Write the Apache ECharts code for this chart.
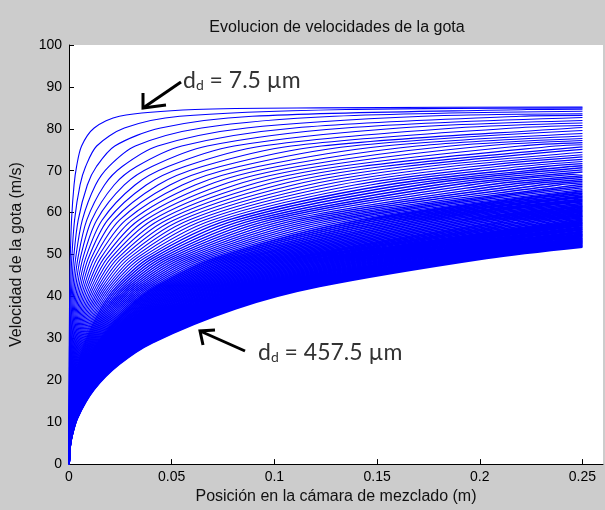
<!DOCTYPE html>
<html><head><meta charset="utf-8">
<script src="https://cdn.jsdelivr.net/npm/echarts@6/dist/echarts.min.js"></script>
<style>html,body{margin:0;padding:0;background:#cccccc}#c{width:605px;height:510px}</style>
</head><body><div id="c"></div>
<script>
// droplet diameters (µm), one curve each
const diameters = [7.5,12.5,17.5,22.5,27.5,32.5,37.5,42.5,47.5,52.5,57.5,62.5,67.5,72.5,77.5,82.5,87.5,92.5,97.5,102.5,107.5,112.5,117.5,122.5,127.5,132.5,137.5,142.5,147.5,152.5,157.5,162.5,167.5,172.5,177.5,182.5,187.5,192.5,197.5,202.5,207.5,212.5,217.5,222.5,227.5,232.5,237.5,242.5,247.5,252.5,257.5,262.5,267.5,272.5,277.5,282.5,287.5,292.5,297.5,302.5,307.5,312.5,317.5,322.5,327.5,332.5,337.5,342.5,347.5,352.5,357.5,362.5,367.5,372.5,377.5,382.5,387.5,392.5,397.5,402.5,407.5,412.5,417.5,422.5,427.5,432.5,437.5,442.5,447.5,452.5,457.5];
// velocity levels (m/s) and the position (m) at which each droplet reaches them
const velocityLevels = [3.7,6.3,11.0,17.8,23.8,29.0,37.1,42.4,49.1,58.2,66.6,71.0,75.9,80.2,83.0,84.6,85.0,85.2];
const reachPosition = [
[0,0,0.00001,0.00004,0.00007,0.00012,0.00025,0.00037,0.00061,0.00123,0.00245,0.00368,0.00613,0.01226,0.02452,0.0613,0.1226,0.2452],
[0,0.00001,0.00003,0.00008,0.00016,0.00027,0.00054,0.00081,0.00135,0.0027,0.00539,0.00809,0.01348,0.02695,0.0539,0.1348],
[0,0.00001,0.00004,0.00013,0.00027,0.00045,0.00089,0.00134,0.00223,0.00446,0.00892,0.01338,0.0223,0.0446,0.0892,0.223],
[0.00001,0.00002,0.00006,0.00019,0.00039,0.00065,0.00129,0.00194,0.00323,0.00646,0.01291,0.01937,0.03228,0.06455,0.1291],
[0.00001,0.00003,0.00009,0.00026,0.00052,0.00086,0.00173,0.00259,0.00432,0.00864,0.01727,0.02591,0.04318,0.08636,0.1727],
[0.00001,0.00003,0.00011,0.00033,0.00066,0.0011,0.0022,0.00329,0.00549,0.01098,0.02196,0.03294,0.0549,0.1098,0.2196],
[0.00001,0.00004,0.00013,0.0004,0.00081,0.00135,0.00269,0.00404,0.00673,0.01346,0.02693,0.04039,0.06732,0.1346],
[0.00002,0.00005,0.00016,0.00048,0.00096,0.00161,0.00322,0.00482,0.00804,0.01608,0.03215,0.04823,0.08039,0.1608],
[0.00002,0.00006,0.00019,0.00056,0.00113,0.00188,0.00376,0.00564,0.0094,0.0188,0.0376,0.05641,0.09401,0.188],
[0.00002,0.00006,0.00022,0.00065,0.0013,0.00216,0.00433,0.00649,0.01082,0.02164,0.04327,0.06491,0.1082,0.2164],
[0.00002,0.00007,0.00025,0.00074,0.00147,0.00246,0.00491,0.00737,0.01229,0.02457,0.04914,0.07371,0.1229,0.2457],
[0.00003,0.00008,0.00028,0.00083,0.00165,0.00276,0.00552,0.00827,0.01379,0.02758,0.05516,0.08274,0.1379],
[0.00003,0.00009,0.00031,0.00092,0.00184,0.00307,0.00614,0.00921,0.01535,0.03069,0.06138,0.09207,0.1535],
[0.00003,0.0001,0.00034,0.00102,0.00203,0.00339,0.00678,0.01016,0.01694,0.03388,0.06776,0.1016,0.1694],
[0.00004,0.00011,0.00037,0.00111,0.00223,0.00371,0.00743,0.01114,0.01857,0.03714,0.07428,0.1114,0.1857],
[0.00004,0.00012,0.0004,0.00121,0.00243,0.00405,0.0081,0.01214,0.02024,0.04048,0.08096,0.1214,0.2024],
[0.00004,0.00013,0.00044,0.00132,0.00263,0.00439,0.00878,0.01317,0.02195,0.0439,0.0878,0.1317,0.2195],
[0.00005,0.00014,0.00047,0.00142,0.00284,0.00474,0.00947,0.01421,0.02369,0.04737,0.09474,0.1421,0.2369],
[0.00005,0.00015,0.00051,0.00153,0.00306,0.00509,0.01018,0.01528,0.02546,0.05092,0.1018,0.1528],
[0.00005,0.00016,0.00055,0.00164,0.00327,0.00545,0.01091,0.01636,0.02727,0.05454,0.1091,0.1636],
[0.00006,0.00017,0.00058,0.00175,0.00349,0.00582,0.01164,0.01746,0.0291,0.0582,0.1164,0.1746],
[0.00006,0.00019,0.00062,0.00186,0.00371,0.00619,0.01238,0.01857,0.03096,0.06191,0.1238,0.1857],
[0.00007,0.0002,0.00066,0.00197,0.00394,0.00657,0.01313,0.0197,0.03283,0.06566,0.1313,0.197],
[0.00007,0.00021,0.00069,0.00208,0.00417,0.00695,0.0139,0.02084,0.03474,0.06948,0.139,0.2084],
[0.00007,0.00022,0.00073,0.0022,0.0044,0.00734,0.01467,0.02201,0.03668,0.07336,0.1467,0.2201],
[0.00008,0.00023,0.00077,0.00232,0.00464,0.00773,0.01546,0.02319,0.03865,0.0773,0.1546,0.2319],
[0.00008,0.00024,0.00081,0.00244,0.00488,0.00813,0.01625,0.02438,0.04064,0.08127,0.1625,0.2438],
[0.00009,0.00026,0.00085,0.00256,0.00512,0.00853,0.01707,0.0256,0.04267,0.08533,0.1707],
[0.00009,0.00027,0.00089,0.00268,0.00537,0.00894,0.01789,0.02683,0.04472,0.08943,0.1789],
[0.00009,0.00028,0.00094,0.00281,0.00561,0.00936,0.01871,0.02807,0.04678,0.09356,0.1871],
[0.0001,0.00029,0.00098,0.00293,0.00586,0.00977,0.01954,0.02932,0.04886,0.09772,0.1954],
[0.0001,0.00031,0.00102,0.00306,0.00612,0.01019,0.02039,0.03058,0.05097,0.1019,0.2039],
[0.00011,0.00032,0.00106,0.00319,0.00637,0.01062,0.02123,0.03185,0.05309,0.1062,0.2123],
[0.00011,0.00033,0.0011,0.00331,0.00663,0.01105,0.02209,0.03314,0.05524,0.1105,0.2209],
[0.00011,0.00034,0.00115,0.00344,0.00689,0.01148,0.02296,0.03445,0.05741,0.1148,0.2296],
[0.00012,0.00036,0.00119,0.00358,0.00715,0.01192,0.02383,0.03575,0.05959,0.1192,0.2383],
[0.00012,0.00037,0.00124,0.00371,0.00741,0.01236,0.02472,0.03707,0.06179,0.1236,0.2472],
[0.00013,0.00038,0.00128,0.00384,0.00768,0.0128,0.02561,0.03841,0.06402,0.128],
[0.00013,0.0004,0.00133,0.00398,0.00795,0.01325,0.0265,0.03976,0.06626,0.1325],
[0.00014,0.00041,0.00137,0.00411,0.00822,0.01371,0.02741,0.04112,0.06853,0.1371],
[0.00014,0.00043,0.00142,0.00425,0.0085,0.01417,0.02834,0.0425,0.07084,0.1417],
[0.00015,0.00044,0.00146,0.00439,0.00878,0.01463,0.02925,0.04388,0.07313,0.1463],
[0.00015,0.00045,0.00151,0.00453,0.00905,0.01509,0.03018,0.04527,0.07545,0.1509],
[0.00016,0.00047,0.00156,0.00467,0.00933,0.01556,0.03111,0.04667,0.07778,0.1556],
[0.00016,0.00048,0.0016,0.00481,0.00962,0.01603,0.03206,0.04808,0.08014,0.1603],
[0.00017,0.0005,0.00165,0.00495,0.0099,0.0165,0.033,0.0495,0.08251,0.165],
[0.00017,0.00051,0.0017,0.00509,0.01019,0.01698,0.03395,0.05093,0.08489,0.1698],
[0.00017,0.00052,0.00175,0.00524,0.01047,0.01746,0.03492,0.05237,0.08729,0.1746],
[0.00018,0.00054,0.00179,0.00538,0.01076,0.01794,0.03588,0.05382,0.08971,0.1794],
[0.00018,0.00055,0.00184,0.00553,0.01106,0.01843,0.03686,0.05528,0.09214,0.1843],
[0.00019,0.00057,0.00189,0.00567,0.01135,0.01892,0.03783,0.05675,0.09458,0.1892],
[0.00019,0.00058,0.00194,0.00582,0.01165,0.01941,0.03882,0.05823,0.09705,0.1941],
[0.0002,0.0006,0.00199,0.00597,0.01194,0.0199,0.03981,0.05971,0.09952,0.199],
[0.0002,0.00061,0.00204,0.00612,0.01224,0.0204,0.0408,0.06121,0.102,0.204],
[0.00021,0.00063,0.00209,0.00627,0.01254,0.0209,0.04181,0.06271,0.1045,0.209],
[0.00021,0.00064,0.00214,0.00642,0.01285,0.02141,0.04282,0.06423,0.107,0.2141],
[0.00022,0.00066,0.00219,0.00657,0.01315,0.02191,0.04383,0.06574,0.1096,0.2191],
[0.00022,0.00067,0.00224,0.00673,0.01346,0.02243,0.04485,0.06728,0.1121,0.2243],
[0.00023,0.00069,0.00229,0.00688,0.01376,0.02294,0.04588,0.06881,0.1147,0.2294],
[0.00023,0.0007,0.00235,0.00704,0.01407,0.02346,0.04692,0.07037,0.1173,0.2346],
[0.00024,0.00072,0.0024,0.00719,0.01439,0.02398,0.04796,0.07194,0.1199,0.2398],
[0.00024,0.00073,0.00245,0.00735,0.0147,0.0245,0.049,0.0735,0.1225,0.245],
[0.00025,0.00075,0.0025,0.00751,0.01501,0.02502,0.05004,0.07506,0.1251],
[0.00026,0.00077,0.00255,0.00766,0.01533,0.02555,0.0511,0.07664,0.1277],
[0.00026,0.00078,0.00261,0.00782,0.01565,0.02608,0.05215,0.07823,0.1304],
[0.00027,0.0008,0.00266,0.00798,0.01596,0.02661,0.05321,0.07982,0.133],
[0.00027,0.00081,0.00271,0.00814,0.01629,0.02714,0.05429,0.08143,0.1357],
[0.00028,0.00083,0.00277,0.0083,0.01661,0.02768,0.05536,0.08304,0.1384],
[0.00028,0.00085,0.00282,0.00847,0.01693,0.02822,0.05644,0.08467,0.1411],
[0.00029,0.00086,0.00288,0.00863,0.01726,0.02876,0.05753,0.08629,0.1438],
[0.00029,0.00088,0.00293,0.00879,0.01759,0.02931,0.05862,0.08793,0.1465],
[0.0003,0.0009,0.00299,0.00896,0.01791,0.02985,0.05971,0.08956,0.1493],
[0.0003,0.00091,0.00304,0.00912,0.01824,0.0304,0.0608,0.09121,0.152],
[0.00031,0.00093,0.0031,0.00929,0.01857,0.03095,0.0619,0.09285,0.1548],
[0.00032,0.00095,0.00315,0.00945,0.0189,0.0315,0.06301,0.09451,0.1575],
[0.00032,0.00096,0.00321,0.00962,0.01924,0.03206,0.06413,0.09619,0.1603],
[0.00033,0.00098,0.00326,0.00979,0.01957,0.03262,0.06524,0.09787,0.1631],
[0.00033,0.001,0.00332,0.00995,0.01991,0.03318,0.06636,0.09955,0.1659],
[0.00034,0.00101,0.00337,0.01012,0.02024,0.03374,0.06748,0.1012,0.1687],
[0.00034,0.00103,0.00343,0.01029,0.02059,0.03431,0.06862,0.1029,0.1716],
[0.00035,0.00105,0.00349,0.01046,0.02093,0.03488,0.06975,0.1046,0.1744],
[0.00035,0.00106,0.00354,0.01063,0.02127,0.03544,0.07088,0.1063,0.1772],
[0.00036,0.00108,0.0036,0.01081,0.02161,0.03602,0.07204,0.1081,0.1801],
[0.00037,0.0011,0.00366,0.01098,0.02195,0.03659,0.07318,0.1098,0.183],
[0.00037,0.00111,0.00372,0.01115,0.0223,0.03716,0.07433,0.1115,0.1858],
[0.00038,0.00113,0.00377,0.01132,0.02264,0.03774,0.07548,0.1132,0.1887],
[0.00038,0.00115,0.00383,0.0115,0.02299,0.03832,0.07664,0.115,0.1916],
[0.00039,0.00117,0.00389,0.01167,0.02334,0.03891,0.07781,0.1167,0.1945],
[0.00039,0.00118,0.00395,0.01184,0.02369,0.03948,0.07896,0.1184,0.1974],
[0.0004,0.0012,0.00401,0.01202,0.02404,0.04007,0.08014,0.1202,0.2003],
[0.00041,0.00122,0.00407,0.0122,0.02439,0.04065,0.0813,0.122,0.2033]
];
// velocity of each droplet at the chamber exit
const endPosition = 0.25;
const finalVelocity = [85.2,85.0,84.7,84.2,83.6,83.2,82.7,82.0,81.4,80.8,
80.3,79.6,78.9,78.3,77.7,77.2,76.7,76.2,
75.7,75.1,74.4,73.8,73.3,72.7,72.2,71.7,71.2,70.7,70.2,69.7,69.3,68.8,68.4,67.9,67.5,67.1,66.7,
66.3,65.9,65.5,65.1,64.7,64.3,63.9,63.6,63.2,62.9,62.6,62.2,61.9,61.6,61.3,61.0,60.7,60.4,60.1,59.8,59.5,59.2,59.0,58.7,58.4,
58.2,57.9,57.6,57.4,57.1,56.9,56.6,56.4,56.1,55.9,55.6,55.4,55.2,54.9,54.7,54.5,54.3,54.0,53.8,53.6,53.4,53.2,53.0,52.8,52.6,52.4,52.2,52.0,51.8];
const startPoint = [0, 0];
const xTickValues = [0, 0.05, 0.1, 0.15, 0.2, 0.25];
const yTickValues = [0,10,20,30,40,50,60,70,80,90,100];
const labels = { small: '7.5', large: '457.5' };

const chart = echarts.init(document.getElementById('c'), null, {renderer: 'canvas'});
const series = reachPosition.map((row, i) => {
  const pts = [startPoint.slice()];
  row.forEach((x, j) => { if (x > pts[pts.length - 1][0]) pts.push([x, velocityLevels[j]]); });
  if (endPosition > pts[pts.length - 1][0]) pts.push([endPosition, finalVelocity[i]]);
  const w = i < 25 ? 1.1 : (i < 40 ? 1.4 : 1.9);
  return {
    name: diameters[i] + ' µm', type: 'line', data: pts, showSymbol: false, symbol: 'none',
    smooth: 0.3, silent: true, animation: false,
    lineStyle: { color: '#0000ff', width: w }
  };
});
const tickFont = { fontFamily: 'Liberation Sans', fontSize: 14, color: '#000' };
const nameFont = { fontFamily: 'Liberation Sans', fontSize: 16, color: '#111' };
const annFont = 'Lato';
const annRich = {
  a: { fontFamily: annFont, fontSize: 23, fill: '#333', verticalAlign: 'bottom' },
  b: { fontFamily: annFont, fontSize: 14, fill: '#333', verticalAlign: 'bottom' }
};
chart.setOption({
  backgroundColor: '#cccccc',
  animation: false,
  title: { text: 'Evolucion de velocidades de la gota', left: 332, top: 15, textAlign: 'center',
    textStyle: { fontFamily: 'Liberation Sans', fontSize: 16, fontWeight: 'normal', color: '#111' } },
  grid: { left: 69, right: 2, top: 45, bottom: 45, show: true, backgroundColor: '#ffffff', borderWidth: 0 },
  xAxis: { type: 'value', min: 0, max: 0.26,
    name: 'Posición en la cámara de mezclado (m)', nameLocation: 'middle', nameGap: 23, nameTextStyle: nameFont,
    axisLine: { onZero: false, lineStyle: { color: '#000', width: 1 } },
    axisTick: { inside: true, length: 5, customValues: xTickValues, lineStyle: { color: '#000' } },
    axisLabel: Object.assign({ customValues: xTickValues, margin: 6 }, tickFont),
    splitLine: { show: false } },
  yAxis: { type: 'value', min: 0, max: 100, interval: 10,
    name: 'Velocidad de la gota (m/s)', nameLocation: 'middle', nameGap: 44, nameTextStyle: nameFont,
    axisLine: { show: true, lineStyle: { color: '#000', width: 1 } },
    axisTick: { show: true, inside: true, length: 5, customValues: yTickValues, lineStyle: { color: '#000' } },
    axisLabel: Object.assign({ customValues: yTickValues, margin: 7 }, tickFont),
    splitLine: { show: false } },
  series: series,
  graphic: [
    { type: 'line', shape: { x1: 143, y1: 108, x2: 181, y2: 82 }, style: { stroke: '#000', lineWidth: 3 }, z: 100 },
    { type: 'polyline', shape: { points: [[143, 93], [143, 108], [166, 105]] }, style: { stroke: '#000', lineWidth: 3, fill: null }, z: 100 },
    { type: 'line', shape: { x1: 200, y1: 331, x2: 245, y2: 351 }, style: { stroke: '#000', lineWidth: 3 }, z: 100 },
    { type: 'polyline', shape: { points: [[203, 345], [200, 331], [215, 330]] }, style: { stroke: '#000', lineWidth: 3, fill: null }, z: 100 },
    { type: 'text', x: 183, y: 81, z: 100, style: { text: '{a|d}{b|d}{a| = ' + labels.small + ' µm}', verticalAlign: 'middle', align: 'left', rich: annRich } },
    { type: 'text', x: 258, y: 353, z: 100, style: { text: '{a|d}{b|d}{a| = ' + labels.large + ' µm}', verticalAlign: 'middle', align: 'left', rich: annRich } }
  ]
});
</script>
</body></html>
